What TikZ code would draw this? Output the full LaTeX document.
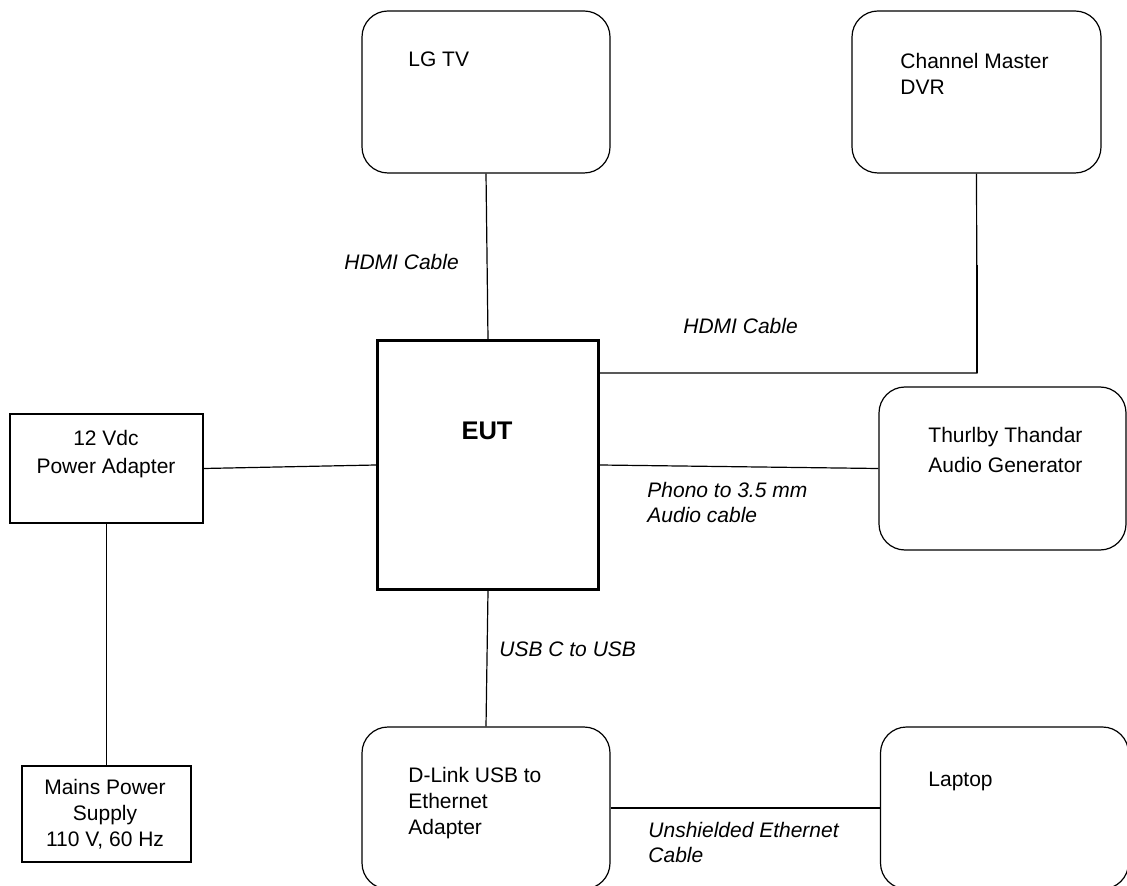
\documentclass[tikz,border=0pt]{standalone}
\usepackage{fontspec}
\setmainfont{Liberation Sans}
\usetikzlibrary{positioning}

\begin{document}
\begin{tikzpicture}[x=0.5pt,y=-0.5pt,font=\fontsize{10.5}{13}\selectfont,
 dev/.style={draw,line width=.6pt,rounded corners=13pt,minimum width=124pt,minimum height=81pt},
 sq/.style={draw,line width=.6pt},
 txt/.style={inner sep=0pt,align=left,anchor=north west},
 cab/.style={txt,font=\fontsize{10.5}{12.5}\selectfont\itshape},
 w/.style={line width=.6pt}]
\useasboundingbox (0,0) rectangle (1127,886);
% boxes
\node[dev] (tv) at (486,92) {};
\node[dev,minimum width=124.5pt] (dvr) at (976.5,92) {};
\node[draw,line width=1.5pt,minimum width=110.5pt,minimum height=124pt] (eut) at (488,465) {};
\node[sq,minimum width=96.5pt,minimum height=54.5pt] (pwr) at (106.5,468.5) {};
\node[dev,minimum width=123.5pt,minimum height=81.5pt] (gen) at (1002.5,468.5) {};
\node[sq,minimum width=84.5pt,minimum height=48pt] (mains) at (106.5,814) {};
\node[dev] (dlink) at (486,808) {};
\node[dev] (lap) at (1004.5,808) {};
% box texts
\node[txt] (tvt) at (408,51) {LG TV};
\node[txt] (dvrt) at (900,53) {Channel Master\\DVR};
\node[inner sep=0pt,anchor=north,font=\fontsize{12.75}{15}\selectfont\bfseries] (eutt) at (487,422) {EUT};
\node[txt,anchor=north,align=center,font=\fontsize{10.5}{14}\selectfont] (pwrt) at (106,430) {12 Vdc\\Power Adapter};
\node[txt,font=\fontsize{10.5}{15}\selectfont] (gent) at (928,427) {Thurlby Thandar\\Audio Generator};
\node[txt,anchor=north,align=center] (mainst) at (105,779) {Mains Power\\Supply\\110 V, 60 Hz};
\node[txt] (dlinkt) at (408,767) {D-Link USB to\\Ethernet\\Adapter};
\node[txt] (lapt) at (928,772) {Laptop};
% cables
\coordinate (bend) at (977,373);\coordinate (kink) at (977,265);
\draw[w] (tv.south)--(eut.north);
\draw[w] (dvr.south)--(bend)--(bend -| eut.east);
\draw[line width=1.1pt] (kink)--(bend);
\draw[w] (pwr.east)--(eut.west);
\draw[w] (eut.east)--(gen.west);
\draw[w] (eut.south)--(dlink.north);
\draw[w] (pwr.south)--(mains.north);
\draw[w] (dlink.east)--(lap.west);
\node[cab] (l1) at (344,254) {HDMI Cable};
\node[cab] (l2) at (683,318) {HDMI Cable};
\node[cab] (l3) at (647,482) {Phono to 3.5 mm\\Audio cable};
\node[cab] (l4) at (499,641) {USB C to USB};
\node[cab] (l5) at (648,822) {Unshielded Ethernet\\Cable};
\end{tikzpicture}
\end{document}
